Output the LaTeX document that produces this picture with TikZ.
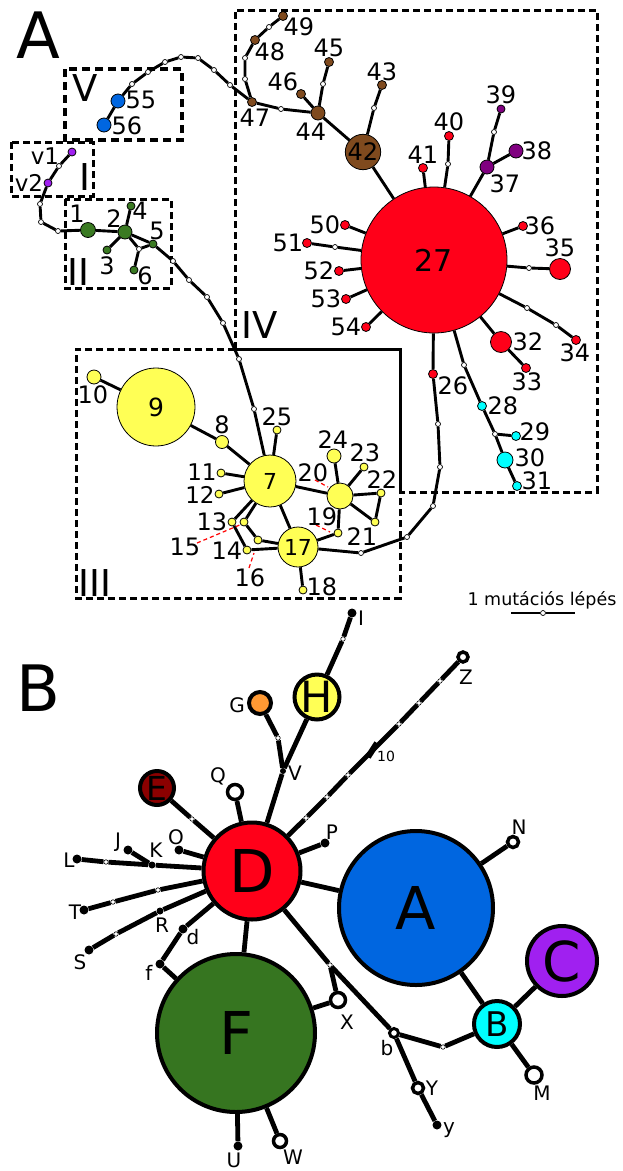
\documentclass[tikz,border=0pt]{standalone}
\usepackage{fontspec}
\setmainfont{DejaVu Sans}
\newcommand\myfs[1]{\fontsize{#1}{#1}\selectfont}
\definecolor{cred}{HTML}{FF0019}
\definecolor{cbrown}{HTML}{7F4A1E}
\definecolor{cpurp}{HTML}{800080}
\definecolor{cviol}{HTML}{A020F0}
\definecolor{ccyan}{HTML}{00FFFF}
\definecolor{cyel}{HTML}{FFFF55}
\definecolor{cgreen}{HTML}{3A7A22}
\definecolor{cfgreen}{HTML}{367520}
\definecolor{cblue}{HTML}{0066E0}
\definecolor{corange}{HTML}{FF9933}
\definecolor{cdred}{HTML}{8B0000}
\begin{document}
\begin{tikzpicture}[x=1pt,y=-1pt,
  hap/.style={circle,draw=black,line width=0.8pt,inner sep=0pt},
  mv/.style={circle,draw=black,fill=white,line width=0.7pt,inner sep=0pt,minimum size=5pt},
  lk/.style={line width=2.9pt},
  num/.style={inner sep=0pt,font=\myfs{24}},
  rom/.style={inner sep=0pt,font=\myfs{37}},
  dbox/.style={line width=3pt,dash pattern=on 7pt off 4pt},
  sbox/.style={line width=3pt},
  ptr/.style={draw=red,line width=1.2pt,dash pattern=on 4pt off 3pt},
  hB/.style={circle,draw=black,line width=4pt,inner sep=0pt},
  dotB/.style={circle,fill=black,inner sep=0pt,minimum size=9pt},
  ringB/.style={circle,draw=black,fill=white,line width=3.5pt,inner sep=0pt},
  mvB/.style={circle,draw=black,fill=white,line width=0.6pt,inner sep=0pt,minimum size=4.5pt},
  lkB/.style={line width=4.8pt},
  lett/.style={inner sep=0pt,font=\myfs{20}}]
\useasboundingbox[fill=white] (0,0) rectangle (622,1171);

% ================= PART A =================
\node[inner sep=0pt,font=\myfs{64}] (tA) at (38,35) {A};

% boxes
\draw[dbox,line width=4pt,dash pattern=on 8pt off 5pt] (65,69) rectangle (182,140);
\draw[dbox] (11,142) rectangle (93,196);
\draw[dbox] (65,199) rectangle (171,288);
\draw[dbox] (235,349) -- (235,10) -- (597,10) -- (597,492) -- (400,492);
\draw[dbox] (235,349) -- (76,349) -- (76,598) -- (400,598) -- (400,492);
\draw[sbox] (235,349) -- (400,349) -- (400,492);
\node[rom] (rV) at (85,88) {V};
\node[rom] (rI) at (85,177) {I};
\node[rom] (rII) at (78,272) {II};
\node[rom] (rIV) at (260,325) {IV};
\node[rom] (rIII) at (95,583) {III};

% haplotypes
\node[hap,fill=cblue,minimum size=14pt] (a55) at (118,101) {};
\node[hap,fill=cblue,minimum size=14pt] (a56) at (104,125) {};
\node[hap,fill=cviol,minimum size=8pt] (av1) at (72,152) {};
\node[hap,fill=cviol,minimum size=8pt] (av2) at (48,183) {};
\node[hap,fill=cgreen,minimum size=15pt] (a1) at (88,230) {};
\node[hap,fill=cgreen,minimum size=14pt] (a2) at (125,232) {};
\node[hap,fill=cgreen,minimum size=8pt] (a3) at (107,250) {};
\node[hap,fill=cgreen,minimum size=8pt] (a4) at (131,206) {};
\node[hap,fill=cgreen,minimum size=8pt] (a5) at (153,244) {};
\node[hap,fill=cgreen,minimum size=8pt] (a6) at (134,270) {};

\node[hap,fill=cbrown,minimum size=9pt] (a47) at (252,102) {};
\node[hap,fill=cbrown,minimum size=9pt] (a48) at (255,40) {};
\node[hap,fill=cbrown,minimum size=9pt] (a49) at (283,16) {};
\node[hap,fill=cbrown,minimum size=14pt] (a44) at (318,113) {};
\node[hap,fill=cbrown,minimum size=9pt] (a46) at (301,94) {};
\node[hap,fill=cbrown,minimum size=9pt] (a45) at (329,62) {};
\node[hap,fill=cbrown,minimum size=9pt] (a43) at (382,85) {};
\node[hap,fill=cbrown,minimum size=34pt,font=\myfs{24}] (a42) at (363,152) {42};

\node[hap,fill=cred,minimum size=146pt,font=\myfs{30}] (a27) at (434,260) {27};
\node[hap,fill=cred,minimum size=9pt] (a41) at (423,168) {};
\node[hap,fill=cred,minimum size=9pt] (a40) at (449,136) {};
\node[hap,fill=cred,minimum size=9pt] (a36) at (523,226) {};
\node[hap,fill=cred,minimum size=21pt] (a35) at (560,269) {};
\node[hap,fill=cred,minimum size=9pt] (a50) at (345,225) {};
\node[hap,fill=cred,minimum size=9pt] (a51) at (307,243) {};
\node[hap,fill=cred,minimum size=9pt] (a52) at (339,271) {};
\node[hap,fill=cred,minimum size=9pt] (a53) at (346,299) {};
\node[hap,fill=cred,minimum size=9pt] (a54) at (366,327) {};
\node[hap,fill=cred,minimum size=21pt] (a32) at (501,342) {};
\node[hap,fill=cred,minimum size=9pt] (a33) at (526,368) {};
\node[hap,fill=cred,minimum size=9pt] (a34) at (576,340) {};
\node[hap,fill=cred,minimum size=9pt] (a26) at (433,374) {};
\node[hap,fill=cpurp,minimum size=14pt] (a37) at (487,167) {};
\node[hap,fill=cpurp,minimum size=14pt] (a38) at (516,151) {};
\node[hap,fill=cpurp,minimum size=8pt] (a39) at (501,109) {};
\node[hap,fill=ccyan,minimum size=9pt] (a28) at (482,406) {};
\node[hap,fill=ccyan,minimum size=9pt] (a29) at (516,436) {};
\node[hap,fill=ccyan,minimum size=16pt] (a30) at (505,460) {};
\node[hap,fill=ccyan,minimum size=9pt] (a31) at (517,486) {};

\node[hap,fill=cyel,minimum size=78pt,font=\myfs{25}] (a9) at (156,407) {9};
\node[hap,fill=cyel,minimum size=14pt] (a10) at (94,377) {};
\node[hap,fill=cyel,minimum size=13pt] (a8) at (222,442) {};
\node[hap,fill=cyel,minimum size=52pt,font=\myfs{22}] (a7) at (270,481) {7};
\node[hap,fill=cyel,minimum size=8pt] (a11) at (221,473) {};
\node[hap,fill=cyel,minimum size=8pt] (a12) at (219,494) {};
\node[hap,fill=cyel,minimum size=8pt] (a25) at (277,430) {};
\node[hap,fill=cyel,minimum size=8pt] (a13) at (232,522) {};
\node[hap,fill=cyel,minimum size=8pt] (a15) at (244,522) {};
\node[hap,fill=cyel,minimum size=8pt] (a16) at (258,540) {};
\node[hap,fill=cyel,minimum size=8pt] (a14) at (247,550) {};
\node[hap,fill=cyel,minimum size=40pt,font=\myfs{22}] (a17) at (298,547) {17};
\node[hap,fill=cyel,minimum size=8pt] (a18) at (303,590) {};
\node[hap,fill=cyel,minimum size=26pt] (a20) at (340,496) {};
\node[hap,fill=cyel,minimum size=8pt] (a19) at (338,533) {};
\node[hap,fill=cyel,minimum size=14pt] (a24) at (334,456) {};
\node[hap,fill=cyel,minimum size=8pt] (a23) at (364,467) {};
\node[hap,fill=cyel,minimum size=8pt] (a22) at (381,493) {};
\node[hap,fill=cyel,minimum size=8pt] (a21) at (375,522) {};

% mutation steps
\node[mv] (ma1) at (132,84) {};
\node[mv] (ma2) at (148,72) {};
\node[mv] (ma3) at (165,62) {};
\node[mv] (ma4) at (181,57) {};
\node[mv] (ma5) at (198,58) {};
\node[mv] (ma6) at (214,70) {};
\node[mv] (ma7) at (230,85) {};
\node[mv] (mb1) at (59,166) {};
\node[mv] (mb2) at (40,204) {};
\node[mv] (mb3) at (41,222) {};
\node[mv] (mb4) at (58,231) {};
\node[mv] (mc) at (139,249) {};
\node[mv] (md1) at (173,261) {};
\node[mv] (md2) at (189,280) {};
\node[mv] (md3) at (207,297) {};
\node[mv] (md4) at (223,323) {};
\node[mv] (md5) at (239,359) {};
\node[mv] (md6) at (254,409) {};
\node[mv] (me1) at (245,79) {};
\node[mv] (me2) at (245,58) {};
\node[mv] (me3) at (269,27) {};
\node[mv] (me4) at (281,109) {};
\node[mv] (me5) at (323,84) {};
\node[mv] (me6) at (374,108) {};
\node[mv] (me7) at (448,164) {};
\node[mv] (me8) at (494,132) {};
\node[mv] (me9) at (529,268) {};
\node[mv] (me10) at (335,247) {};
\node[mv] (me11) at (527,308) {};
\node[mv] (me12) at (556,325) {};
\node[mv] (me13) at (464,365) {};
\node[mv] (me14) at (495,434) {};
\node[mv] (mf1) at (438,424) {};
\node[mv] (mf2) at (440,467) {};
\node[mv] (mf3) at (433,506) {};
\node[mv] (mf4) at (407,537) {};
\node[mv] (mf5) at (361,553) {};

% links
\draw[lk] (a56)--(a55)--(ma1)--(ma2)--(ma3)--(ma4)--(ma5)--(ma6)--(ma7)--(a47);
\draw[lk] (av1)--(mb1)--(av2)--(mb2)--(mb3)--(mb4)--(a1)--(a2);
\draw[lk] (a2)--(a4) (a2)--(a3) (a2)--(a5) (a2)--(mc) (mc)--(a5) (mc)--(a6);
\draw[lk] (a5)--(md1)--(md2)--(md3)--(md4)--(md5)--(md6)--(a7);
\draw[lk] (a47)--(me1)--(me2)--(a48)--(me3)--(a49);
\draw[lk] (a47)--(me4)--(a44);
\draw[lk] (a44)--(a46) (a44)--(me5)--(a45) (a44)--(a42);
\draw[lk] (a42)--(me6)--(a43) (a42)--(a27);
\draw[lk] (a27)--(a41) (a27)--(me7)--(a40) (a27)--(a37) (a37)--(a38) (a37)--(me8)--(a39);
\draw[lk] (a27)--(a36) (a27)--(me9)--(a35);
\draw[lk] (a27)--(a50) (a27)--(me10)--(a51) (a27)--(a52) (a27)--(a53) (a27)--(a54);
\draw[lk] (a27)--(a32)--(a33) (a27)--(me11)--(me12)--(a34);
\draw[lk] (a27)--(a26)--(mf1)--(mf2)--(mf3)--(mf4)--(mf5)--(a17);
\draw[lk] (a27)--(me13)--(a28)--(me14)--(a30)--(a31) (me14)--(a29);
\draw[lk] (a10)--(a9)--(a8)--(a7);
\draw[lk] (a7)--(a11) (a7)--(a12) (a7)--(a25) (a7)--(a13) (a7)--(a15);
\draw[lk] (a13)--(a14)--(a17) (a15)--(a16)--(a17) (a7)--(a17) (a7)--(a20);
\draw[lk] (a17)--(a19)--(a20) (a17)--(a18);
\draw[lk] (a20)--(a24) (a20)--(a23) (a20)--(a22) (a20)--(a21) (a22)--(a21);

% red pointers
\coordinate (c15a) at (197,543); \coordinate (c15b) at (242,524);
\coordinate (c16a) at (249,568); \coordinate (c16b) at (254,553);
\coordinate (c20a) at (315,480); \coordinate (c20b) at (328,487);
\coordinate (c19a) at (316,525); \coordinate (c19b) at (330,532);
\draw[ptr] (c15a)--(c15b);
\draw[ptr] (c16a)--(c16b);
\draw[ptr] (c20a)--(c20b);
\draw[ptr] (c19a)--(c19b);

% labels A
\node[num] (l55) at (141,100) {55};
\node[num] (l56) at (127,126) {56};
\node[num,font=\myfs{23}] (lv1) at (45,156) {v1};
\node[num,font=\myfs{23}] (lv2) at (29,183) {v2};
\node[num] (l1) at (77,214) {1};
\node[num] (l2) at (114,219) {2};
\node[num] (l4) at (140,211) {4};
\node[num] (l5) at (157,231) {5};
\node[num] (l3) at (107,266) {3};
\node[num] (l6) at (145,276) {6};
\node[num] (l49) at (299,27) {49};
\node[num] (l48) at (270,52) {48};
\node[num] (l45) at (329,48) {45};
\node[num] (l46) at (283,82) {46};
\node[num] (l47) at (255,118) {47};
\node[num] (l44) at (311,132) {44};
\node[num] (l43) at (382,72) {43};
\node[num] (l39) at (501,95) {39};
\node[num] (l40) at (449,122) {40};
\node[num] (l41) at (423,155) {41};
\node[num] (l38) at (537,151) {38};
\node[num] (l37) at (505,184) {37};
\node[num] (l36) at (540,226) {36};
\node[num] (l35) at (560,248) {35};
\node[num] (l50) at (325,225) {50};
\node[num] (l51) at (288,243) {51};
\node[num] (l52) at (319,271) {52};
\node[num] (l53) at (326,299) {53};
\node[num] (l54) at (346,327) {54};
\node[num] (l32) at (528,342) {32};
\node[num] (l33) at (527,382) {33};
\node[num] (l34) at (575,353) {34};
\node[num] (l26) at (453,386) {26};
\node[num] (l28) at (503,406) {28};
\node[num] (l29) at (535,432) {29};
\node[num] (l30) at (530,458) {30};
\node[num] (l31) at (537,481) {31};
\node[num] (l10) at (93,395) {10};
\node[num] (l8) at (222,425) {8};
\node[num] (l25) at (277,417) {25};
\node[num,font=\myfs{23}] (l11) at (202,472) {11};
\node[num,font=\myfs{23}] (l12) at (200,495) {12};
\node[num] (l13) at (212,522) {13};
\node[num] (l14) at (227,551) {14};
\node[num] (l15) at (185,547) {15};
\node[num] (l16) at (250,578) {16};
\node[num] (l18) at (322,587) {18};
\node[num] (l19) at (322,517) {19};
\node[num] (l20) at (313,473) {20};
\node[num] (l21) at (362,537) {21};
\node[num] (l22) at (382,480) {22};
\node[num] (l23) at (365,453) {23};
\node[num] (l24) at (333,440) {24};

% scale bar
\node[inner sep=0pt,font=\myfs{17.5}] (scl) at (542,600) {1 mutációs lépés};
\coordinate (sb1) at (511,613);
\coordinate (sb2) at (575,613);
\node[mv] (sbm) at (543,613) {};
\draw[line width=1.4pt] (sb1)--(sbm)--(sb2);

% ================= PART B =================
\node[inner sep=0pt,font=\myfs{64}] (tB) at (38,688) {B};

\node[hB,fill=cred,minimum size=97pt,font=\myfs{59}] (bD) at (252,871) {D};
\node[hB,fill=cblue,minimum size=154pt,font=\myfs{59}] (bA) at (416,908) {A};
\node[hB,fill=cfgreen,minimum size=158pt,font=\myfs{59}] (bF) at (236,1033) {F};
\node[hB,fill=cviol,minimum size=70pt,font=\myfs{55}] (bC) at (562,961) {C};
\node[hB,fill=ccyan,minimum size=46pt,font=\myfs{34}] (bB) at (497,1024) {B};
\node[hB,fill=cyel,minimum size=44pt,font=\myfs{43}] (bH) at (317,697) {H};
\node[hB,fill=corange,minimum size=22pt] (bG) at (260,703) {};
\node[hB,fill=cdred,minimum size=34pt,font=\myfs{33}] (bE) at (157,788) {E};

\node[dotB] (bI) at (352,613) {};
\node[dotB] (bP) at (325,843) {};
\node[dotB,minimum size=6pt] (bV) at (283,771) {};
\node[dotB] (bO) at (179,850) {};
\node[dotB] (bJ) at (128,850) {};
\node[dotB,minimum size=7pt] (bK) at (152,865) {};
\node[dotB] (bL) at (77,859) {};
\node[dotB] (bT) at (84,910) {};
\node[dotB,minimum size=7pt] (bR) at (160,911) {};
\node[dotB] (bS) at (89,950) {};
\node[dotB] (bd) at (183,929) {};
\node[dotB] (bf) at (160,964) {};
\node[dotB] (bU) at (238,1146) {};
\node[dotB] (by) at (437,1125) {};

\node[ringB,minimum size=10pt] (bZ) at (463,657) {};
\node[ringB,minimum size=11pt] (bN) at (513,842) {};
\node[ringB,minimum size=15pt] (bQ) at (235,792) {};
\node[ringB,minimum size=13pt] (bW) at (280,1141) {};
\node[ringB,minimum size=15pt] (bX) at (338,1000) {};
\node[ringB,minimum size=9pt,line width=3pt] (bb) at (394,1033) {};
\node[ringB,minimum size=11pt] (bY) at (418,1088) {};
\node[ringB,minimum size=16pt] (bM) at (534,1075) {};

\node[mvB] (mB1) at (343,639) {};
\node[mvB] (mB2) at (278,738) {};
\node[mvB] (mB3) at (192,819) {};
\node[mvB] (mB4) at (106,862) {};
\node[mvB] (mB5) at (113,902) {};
\node[mvB] (mB6) at (158,890) {};
\node[mvB] (mB7) at (116,934) {};
\node[mvB] (mB8) at (443,1047) {};
\node[mvB] (bXj) at (330,965) {};
\node[mvB] (mZ1) at (306,818) {};
\node[mvB] (mZ2) at (327,797) {};
\node[mvB] (mZ3) at (348,775) {};
\node[mvB] (mZ4) at (399,724) {};
\node[mvB] (mZ5) at (419,703) {};
\node[mvB] (mZ6) at (440,681) {};

\draw[lkB] (bI)--(mB1)--(bH);
\draw[lkB] (bH)--(bV)--(bD);
\draw[lkB] (bG)--(mB2)--(bV);
\draw[lkB] (bQ)--(bD);
\draw[lkB] (bE)--(mB3)--(bD);
\draw[lkB] (bO)--(bD);
\draw[lkB] (bL)--(mB4)--(bK)--(bD);
\draw[lkB] (bJ)--(bK);
\draw[lkB] (bT)--(mB5)--(mB6)--(bD);
\draw[lkB] (bS)--(mB7)--(bR)--(bD);
\draw[lkB] (bd)--(bD);
\draw[lkB] (bf)--(bd);
\draw[lkB] (bf)--(bF);
\draw[lkB] (bD)--(bF);
\draw[lkB] (bD)--(bP);
\draw[lkB] (bD)--(mZ1)--(mZ2)--(mZ3)--(mZ4)--(mZ5)--(mZ6)--(bZ);
\draw[lkB] (bD)--(bA);
\draw[lkB] (bA)--(bN);
\draw[lkB] (bA)--(bB);
\draw[lkB] (bB)--(bC);
\draw[lkB] (bB)--(bM);
\draw[lkB] (bD)--(bXj)--(bb);
\draw[lkB] (bXj)--(bX)--(bF);
\draw[lkB] (bb)--(bY)--(by);
\draw[lkB] (bb)--(mB8)--(bB);
\draw[lkB] (bF)--(bU);
\draw[lkB] (bF)--(bW);

% 10-step marker
\coordinate (k1) at (368,757);
\coordinate (k2) at (377,743);
\draw[line width=6pt] (k1)--(k2);
\node[inner sep=0pt,font=\myfs{14}] (l10B) at (386,756) {10};

% labels B
\node[lett] (tQ) at (218,776) {Q};
\node[lett] (tO) at (176,837) {O};
\node[lett] (tJ) at (118,842) {J};
\node[lett] (tK) at (156,850) {K};
\node[lett] (tL) at (69,860) {L};
\node[lett] (tT) at (75,912) {T};
\node[lett] (tR) at (162,925) {R};
\node[lett] (tS) at (80,962) {S};
\node[lett] (td) at (193,937) {d};
\node[lett] (tf) at (149,973) {f};
\node[lett] (tU) at (234,1160) {U};
\node[lett] (tW) at (293,1157) {W};
\node[lett] (tX) at (347,1022) {X};
\node[lett] (tb) at (387,1048) {b};
\node[lett] (tY) at (432,1088) {Y};
\node[lett] (ty) at (449,1130) {y};
\node[lett] (tM) at (542,1093) {M};
\node[lett] (tN) at (519,827) {N};
\node[lett] (tP) at (332,832) {P};
\node[lett] (tV) at (295,773) {V};
\node[lett] (tI) at (361,618) {I};
\node[lett] (tZ) at (466,677) {Z};
\node[lett] (tG) at (237,705) {G};
\end{tikzpicture}
\end{document}
